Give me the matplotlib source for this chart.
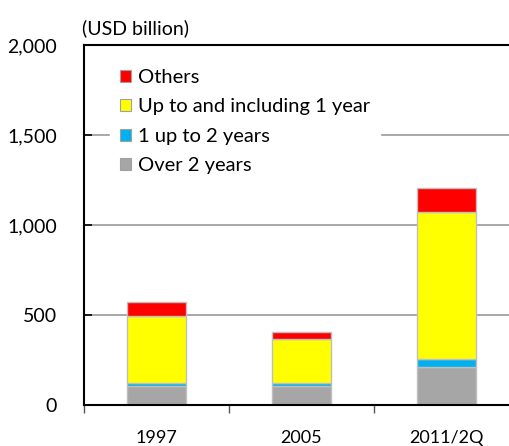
import numpy as np
import matplotlib
matplotlib.use("Agg")
import matplotlib.pyplot as plt
from matplotlib.patches import Patch

plt.rcParams['font.family'] = ['Lato', 'DejaVu Sans']

# Data (USD billion)
categories = ["1997", "2005", "2011/2Q"]
over2 = [107, 108, 213]
oneTo2 = [13, 15, 44]
upTo1 = [374, 245, 814]
others = [76, 37, 133]

seriesNames = ["Over 2 years", "1 up to 2 years", "Up to and including 1 year", "Others"]
seriesColors = ["#a6a6a6", "#00b0f0", "#ffff00", "#ff0000"]

fig = plt.figure(figsize=(5.09, 4.46), dpi=100)
ax = fig.add_axes([84 / 509, 41 / 446, 435 / 509, 360 / 446])

x = np.arange(len(categories))
bottom = np.zeros(len(categories))
for vals, color in zip([over2, oneTo2, upTo1, others], seriesColors):
    ax.bar(x, vals, width=0.41, bottom=bottom, color=color,
           edgecolor="#bfbfbf", linewidth=1.0, zorder=3)
    bottom += np.array(vals)

ax.set_xlim(-0.5, 2.5)
ax.set_ylim(0, 2000)

# Gridlines
for yv in [500, 1000, 1500]:
    ax.axhline(yv, color="#999999", linewidth=1.2, zorder=1)
ax.axhline(2000, color="#000000", linewidth=1.5, zorder=4, clip_on=False)

ax.set_yticks([0, 500, 1000, 1500, 2000])
ax.set_yticklabels(["0", "500", "1,000", "1,500", "2,000"], fontsize=14)
ax.tick_params(axis="y", direction="in", length=6, width=1.2, pad=19.5, color="black")

ax.set_xticks(x)
ax.set_xticklabels(categories, fontsize=13)
ax.tick_params(axis="x", length=0, pad=18)
ax.set_xticks([-0.5, 0.5, 1.5, 2.5], minor=True)
ax.tick_params(axis="x", which="minor", direction="out", length=6, width=1.0, color="#555555")

for side in ["top", "right"]:
    ax.spines[side].set_visible(False)
ax.spines["left"].set_linewidth(1.5)
ax.spines["bottom"].set_linewidth(1.5)
ax.spines["left"].set_zorder(5)
ax.spines["bottom"].set_zorder(5)

handles = [Patch(facecolor=c, edgecolor="#a0a0a0", linewidth=0.8, label=n)
           for n, c in zip(seriesNames[::-1], seriesColors[::-1])]
leg = ax.legend(handles=handles, loc="upper left", bbox_to_anchor=(0.036, 0.99),
                frameon=True, fontsize=14.5, handlelength=0.55, handleheight=0.55,
                handletextpad=0.35, labelspacing=0.62, borderpad=0.5)
leg.get_frame().set_facecolor("white")
leg.get_frame().set_edgecolor("white")
leg.get_frame().set_alpha(1.0)
leg.set_zorder(2)

fig.text(82 / 509, 1 - 28 / 446, "(USD billion)", fontsize=14, va="center", ha="left")

fig.savefig("out.png", dpi=100)
